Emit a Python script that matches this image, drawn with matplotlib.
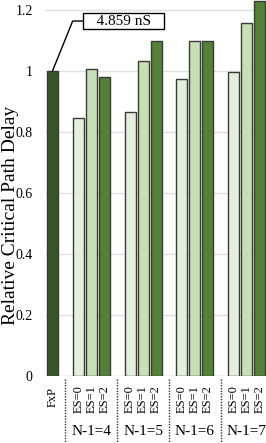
import matplotlib
matplotlib.use("Agg")
import matplotlib.pyplot as plt
import matplotlib.transforms as mtransforms

plt.rcParams['font.family'] = ['Liberation Serif', 'DejaVu Serif']

# data
groups = ['N-1=4', 'N-1=5', 'N-1=6', 'N-1=7']
series = ['ES=0', 'ES=1', 'ES=2']
fxp_value = 1.0
es0 = [0.846, 0.866, 0.974, 0.997]
es1 = [1.007, 1.033, 1.098, 1.157]
es2 = [0.980, 1.098, 1.100, 1.230]
fxp_note = '4.859 nS'
yticks = [0, 0.2, 0.4, 0.6, 0.8, 1.0, 1.2]
ytick_labels = ['0', '0.2', '0.4', '0.6', '0.8', '1', '1.2']

colors = ['#E2EFDA', '#C6E0B4', '#548235']
fxp_color = '#375623'
edge = '#3a3a3a'

fig = plt.figure(figsize=(2.66, 4.43), dpi=100)
ax = fig.add_axes([46 / 266, 1 - 376 / 443, 220 / 266, 376 / 443])

width = 0.85
ax.bar(0, fxp_value, width, color=fxp_color, edgecolor=edge, linewidth=1, zorder=3)
xs_all = []
for g in range(len(groups)):
    base = 2 + 4 * g
    for s, vals in enumerate([es0, es1, es2]):
        x = base + s
        ax.bar(x, vals[g], width, color=colors[s], edgecolor=edge, linewidth=1, zorder=3)
        xs_all.append((x, series[s]))

ax.set_xlim(-0.5, 16.5)
ax.set_ylim(0, 1.233)
ax.set_yticks(yticks)
ax.set_yticklabels(ytick_labels, fontsize=10)
ax.tick_params(axis='y', length=0, pad=9.5)
ax.set_xticks([])
ax.grid(axis='y', color='#e0e0e0', linewidth=1, zorder=0)
for sp in ax.spines.values():
    sp.set_visible(False)
ax.axhline(0, color='#e0e0e0', linewidth=1, zorder=1)

ax.set_ylabel('Relative Critical Path Delay', fontsize=14)
ax.yaxis.set_label_coords(-0.121, 0.426)

trans = mtransforms.blended_transform_factory(ax.transData, ax.transAxes)
ax.text(0, -0.028, 'FxP', rotation=90, ha='center', va='top', fontsize=9,
        transform=trans, clip_on=False)
for x, lab in xs_all:
    ax.text(x, -0.024, lab, rotation=90, ha='center', va='top', fontsize=9,
            transform=trans, clip_on=False)
for g, name in enumerate(groups):
    ax.text(3 + 4 * g, -0.148, name, ha='center', va='center', fontsize=11,
            transform=trans, clip_on=False)
    sep = 1 + 4 * g
    ax.plot([sep, sep], [-0.008, -0.2], color='#333333', linestyle=(0, (1, 1)),
            linewidth=1, transform=trans, clip_on=False)

ax.annotate('   ' + fxp_note + '   ', xy=(0, fxp_value), xytext=(5.5, 1.164),
            ha='center', va='center', fontsize=11,
            bbox=dict(boxstyle='square,pad=0.12', fc='white', ec='black', lw=1),
            arrowprops=dict(arrowstyle='-', color='black', lw=1, shrinkA=0, shrinkB=0,
                            connectionstyle='angle,angleA=180,angleB=68,rad=0',
                            relpos=(0, 0.5)),
            zorder=5)

fig.savefig('out.png', dpi=100)
